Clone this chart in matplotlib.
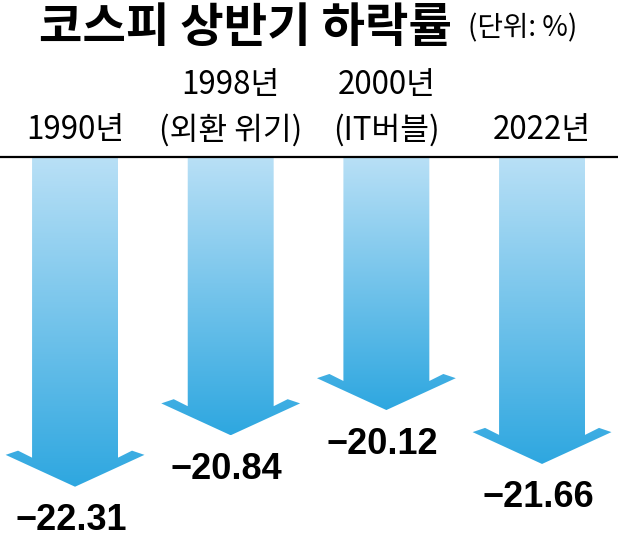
import numpy as np
import matplotlib.pyplot as plt
from matplotlib.path import Path
from matplotlib.patches import PathPatch
from matplotlib.colors import LinearSegmentedColormap

# data
years = ['1990년', '1998년', '2000년', '2022년']
notes = ['', '(외환 위기)', '(IT버블)', '']
values = [-22.31, -20.84, -20.12, -21.66]

title = '코스피 상반기 하락률'
unit = '(단위: %)'

plt.rcParams['font.family'] = ['Noto Sans CJK KR', 'DejaVu Sans']

fig = plt.figure(figsize=(6.18, 5.41), dpi=100)
ax = fig.add_axes([0, 0, 1, 1])
ax.axis('off')

# truncated scale: the arrows start at a common baseline
base = -12.89
shaft = 0.276
cmap = LinearSegmentedColormap.from_list('arrow', ['#b9e0f6', '#2ea7e0'])
grad = np.linspace(0, 1, 256).reshape(-1, 1)

for i, v in enumerate(values):
    verts = [(i - shaft, base), (i - shaft, v + 0.83), (i - 0.366, v + 1.03),
             (i - 0.446, v + 0.91), (i, v), (i + 0.446, v + 0.91),
             (i + 0.366, v + 1.03), (i + shaft, v + 0.83), (i + shaft, base),
             (i - shaft, base)]
    codes = [Path.MOVETO] + [Path.LINETO] * (len(verts) - 2) + [Path.CLOSEPOLY]
    patch = PathPatch(Path(verts, codes), fc='none', ec='none')
    ax.add_patch(patch)
    im = ax.imshow(grad, extent=(i - 0.5, i + 0.5, v, base), origin='upper',
                   cmap=cmap, aspect='auto', zorder=2, interpolation='bilinear')
    im.set_clip_path(patch)

    ax.annotate('\u2212' + f'{abs(v):.2f}', xy=(i, v), xytext=(-3, -24.5),
                textcoords='offset points', ha='center', va='center',
                fontsize=26, fontweight='bold',
                family=['Liberation Sans', 'DejaVu Sans'])

ax.axhline(base, color='black', lw=1.6, zorder=3)

tr = ax.get_xaxis_transform()
for i, (yr, nt) in enumerate(zip(years, notes)):
    if nt:
        ax.text(i, 0.843, yr, transform=tr, ha='center', va='center', fontsize=22.5)
        ax.text(i, 0.760, nt, transform=tr, ha='center', va='center', fontsize=22.5)
    else:
        ax.text(i, 0.760, yr, transform=tr, ha='center', va='center', fontsize=22.5)

fig.text(0.398, 0.948, title, ha='center', va='center', fontsize=34,
         fontweight='heavy')
fig.text(0.845, 0.948, unit, ha='center', va='center', fontsize=20)

ax.set_xlim(-0.482, 3.488)
ax.set_ylim(-23.86, -8.41)

fig.savefig('out.png', dpi=100)
